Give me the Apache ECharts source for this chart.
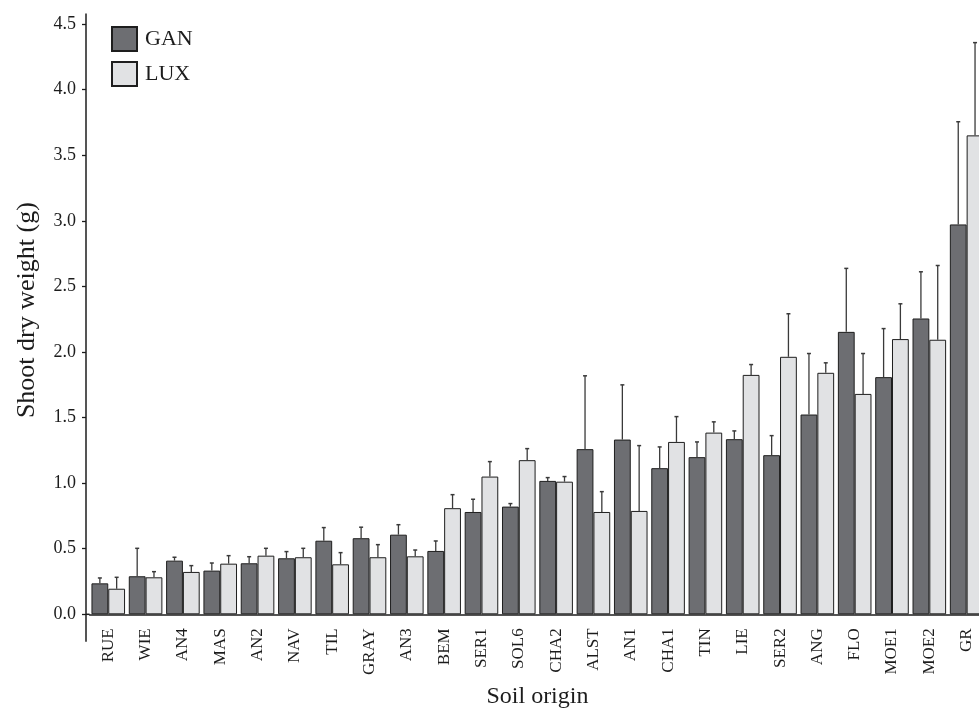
<!DOCTYPE html>
<html>
<head>
<meta charset="utf-8">
<title>Shoot dry weight by soil origin</title>
<script src="https://cdn.jsdelivr.net/npm/echarts@6/dist/echarts.min.js"></script>
<style>
  html, body { margin: 0; padding: 0; background: #ffffff; }
  #chart { width: 979px; height: 711px; }
</style>
</head>
<body>
<div id="chart"></div>
<script>
// Soil origins, ordered by overall growth
const categories = ['RUE', 'WIE', 'AN4', 'MAS', 'AN2', 'NAV', 'TIL', 'GRAY', 'AN3', 'BEM', 'SER1', 'SOL6',
  'CHA2', 'ALST', 'AN1', 'CHA1', 'TIN', 'LIE', 'SER2', 'ANG', 'FLO', 'MOE1', 'MOE2', 'GR'];

// Mean shoot dry weight (g) for each cultivar
const ganMeans = [0.236, 0.290, 0.409, 0.333, 0.389, 0.427, 0.561, 0.580, 0.607, 0.483, 0.780, 0.821,
  1.017, 1.259, 1.332, 1.114, 1.198, 1.335, 1.213, 1.523, 2.153, 1.808, 2.255, 2.972];
const luxMeans = [0.195, 0.282, 0.323, 0.386, 0.447, 0.435, 0.381, 0.435, 0.442, 0.809, 1.050, 1.175,
  1.011, 0.780, 0.788, 1.314, 1.385, 1.825, 1.963, 1.841, 1.680, 2.098, 2.093, 3.651];

// Standard deviations (upper error bars)
const ganErrors = [0.041, 0.213, 0.026, 0.058, 0.050, 0.051, 0.100, 0.084, 0.076, 0.076, 0.097, 0.023,
  0.025, 0.559, 0.417, 0.162, 0.116, 0.063, 0.149, 0.465, 0.484, 0.370, 0.356, 0.783];
const luxErrors = [0.087, 0.043, 0.048, 0.061, 0.056, 0.068, 0.089, 0.096, 0.048, 0.103, 0.114, 0.088,
  0.039, 0.155, 0.498, 0.193, 0.082, 0.079, 0.328, 0.076, 0.308, 0.269, 0.566, 0.707];

// Y axis range and tick spacing
const yMin = 0;
const yMax = 4.5;
const yStep = 0.5;
// The vertical axis line runs a little past both ends of the value range
const yLineFrom = -0.21;
const yLineTo = 4.58;

const seriesNames = ['GAN', 'LUX'];
const FONT = "'Liberation Serif', 'Times New Roman', serif";
const INK = '#1c1c1c';
const BAR_GAP_RATIO = 0.10; // share of each category band left empty
const Y_AXIS_OFFSET = 3.6;

function errorData(means, errors) {
  return means.map((m, i) => [i, m, m + errors[i]]);
}

// Upper error bar with a small cap, offset to sit over its bar in the pair
function makeErrorRenderer(side) {
  return function (params, api) {
    const idx = api.value(0);
    const band = api.size([1, 0])[0];
    const barW = band * (1 - BAR_GAP_RATIO) / 2;
    const base = api.coord([idx, api.value(1)]);
    const top = api.coord([idx, api.value(2)]);
    const x = base[0] + side * barW / 2;
    const cap = 2;
    return {
      type: 'group',
      children: [
        { type: 'line', shape: { x1: x, y1: base[1], x2: x, y2: top[1] },
          style: { stroke: '#3a3a3a', lineWidth: 1.3 } },
        { type: 'line', shape: { x1: x - cap, y1: top[1], x2: x + cap, y2: top[1] },
          style: { stroke: '#3a3a3a', lineWidth: 1.5 } }
      ]
    };
  };
}

const chart = echarts.init(document.getElementById('chart'), null, { renderer: 'canvas' });

chart.setOption({
  backgroundColor: '#ffffff',
  animation: false,
  textStyle: { fontFamily: FONT },
  grid: { left: 89.6, right: -6.3, top: 24, bottom: 96.7, containLabel: false, outerBoundsMode: 'none' },
  legend: {
    data: seriesNames,
    orient: 'vertical',
    left: 111,
    top: 26,
    padding: 0,
    itemWidth: 25,
    itemHeight: 24,
    itemGap: 9,
    icon: 'rect',
    textStyle: { fontFamily: FONT, fontSize: 22, color: INK, padding: [0, 0, 0, 3] }
  },
  xAxis: {
    type: 'category',
    data: categories,
    name: 'Soil origin',
    nameLocation: 'middle',
    nameGap: 70,
    nameTextStyle: { fontFamily: FONT, fontSize: 24, color: INK },
    axisLine: { lineStyle: { color: INK, width: 1.5 } },
    axisTick: { alignWithLabel: true, length: 5, lineStyle: { color: INK, width: 1.3 } },
    axisLabel: { rotate: 90, margin: 14, fontFamily: FONT, fontSize: 17, color: INK },
    splitLine: { show: false }
  },
  yAxis: {
    type: 'value',
    min: yMin,
    max: yMax,
    interval: yStep,
    offset: Y_AXIS_OFFSET,
    name: 'Shoot dry weight (g)',
    nameLocation: 'middle',
    nameGap: 46,
    nameTextStyle: { fontFamily: FONT, fontSize: 26, color: INK, padding: [0, 0, 0, 18] },
    axisLine: { show: false },
    axisTick: { show: true, length: 4, lineStyle: { color: INK, width: 1.3 } },
    axisLabel: {
      margin: 10,
      fontFamily: FONT,
      fontSize: 18,
      color: INK,
      formatter: v => v.toFixed(1)
    },
    splitLine: { show: false }
  },
  series: [
    {
      name: seriesNames[0],
      type: 'bar',
      data: ganMeans,
      barGap: '0%',
      barCategoryGap: (BAR_GAP_RATIO * 100) + '%',
      itemStyle: { color: '#6d6e72', borderColor: '#1e1e1e', borderWidth: 1 }
    },
    {
      name: seriesNames[1],
      type: 'bar',
      data: luxMeans,
      barGap: '0%',
      barCategoryGap: (BAR_GAP_RATIO * 100) + '%',
      itemStyle: { color: '#e1e2e4', borderColor: '#1e1e1e', borderWidth: 1 }
    },
    {
      type: 'custom',
      renderItem: makeErrorRenderer(-1),
      data: errorData(ganMeans, ganErrors),
      encode: { x: 0, y: [1, 2] },
      z: 5,
      silent: true
    },
    {
      type: 'custom',
      renderItem: makeErrorRenderer(1),
      data: errorData(luxMeans, luxErrors),
      encode: { x: 0, y: [1, 2] },
      z: 5,
      silent: true
    }
  ]
});

// Vertical axis line extended beyond the value range, plus the short stub
// joining it to the category axis; positions come from the axis scales.
const c0 = chart.convertToPixel({ xAxisIndex: 0 }, 0);
const c1 = chart.convertToPixel({ xAxisIndex: 0 }, 1);
const gridLeft = c0 - (c1 - c0) / 2;
const axisX = gridLeft - Y_AXIS_OFFSET;
const yTop = chart.convertToPixel({ yAxisIndex: 0 }, yLineTo);
const yBottom = chart.convertToPixel({ yAxisIndex: 0 }, yLineFrom);
const yZero = chart.convertToPixel({ yAxisIndex: 0 }, 0);

chart.setOption({
  graphic: [
    { type: 'line', silent: true, z: 10,
      shape: { x1: axisX, y1: yTop, x2: axisX, y2: yBottom },
      style: { stroke: INK, lineWidth: 1.5 } },
    { type: 'line', silent: true, z: 10,
      shape: { x1: axisX, y1: yZero, x2: gridLeft, y2: yZero },
      style: { stroke: INK, lineWidth: 1.5 } }
  ]
});
</script>
</body>
</html>
